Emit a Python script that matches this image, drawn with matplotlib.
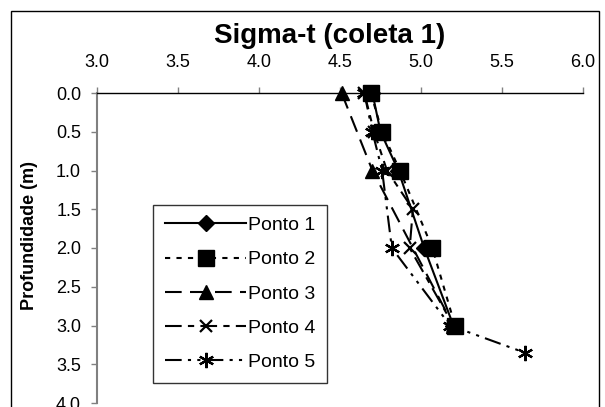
import matplotlib
matplotlib.use("Agg")
import matplotlib.pyplot as plt
from matplotlib.patches import Rectangle

plt.rcParams['font.family'] = ['Liberation Sans', 'DejaVu Sans']

# Sigma-t values per point (x) vs depth (y)
prof_1 = [0.0, 0.5, 1.0, 2.0, 3.0]
sig_1 = [4.70, 4.75, 4.86, 5.02, 5.20]

prof_2 = [0.0, 0.5, 1.0, 2.0, 3.0]
sig_2 = [4.69, 4.76, 4.87, 5.07, 5.21]

prof_3 = [0.0, 1.0, 3.0]
sig_3 = [4.51, 4.70, 5.20]

prof_4 = [0.0, 0.5, 1.0, 1.5, 2.0, 3.0]
sig_4 = [4.65, 4.71, 4.79, 4.95, 4.93, 5.20]

prof_5 = [0.0, 0.5, 1.0, 2.0, 3.0, 3.35]
sig_5 = [4.65, 4.70, 4.76, 4.82, 5.18, 5.64]

xticks = [3.0, 3.5, 4.0, 4.5, 5.0, 5.5, 6.0]
yticks = [0.0, 0.5, 1.0, 1.5, 2.0, 2.5, 3.0, 3.5, 4.0]

fig = plt.figure(figsize=(6.05, 4.07), dpi=100)
ax = fig.add_axes([97/605, 1-403/407, (583-97)/605, (403-93)/407])

lw = 1.5
ax.plot(sig_1, prof_1, color='black', lw=lw, ls='-', marker='D', ms=8, label='Ponto 1', clip_on=False)
ax.plot(sig_2, prof_2, color='black', lw=lw, ls=(0, (2.5, 3)), marker='s', ms=11, label='Ponto 2', clip_on=False)
ax.plot(sig_3, prof_3, color='black', lw=lw, ls=(0, (8, 4)), marker='^', ms=10, label='Ponto 3', clip_on=False)
ax.plot(sig_4, prof_4, color='black', lw=lw, ls=(0, (8, 3, 3, 3)), marker='x', ms=9, mew=1.6, label='Ponto 4', clip_on=False)
ax.plot(sig_5, prof_5, color='black', lw=lw, ls=(0, (8, 3, 1.5, 3, 1.5, 3)), marker=(6, 2, 0), ms=11, mew=1.6, label='Ponto 5', clip_on=False)

ax.set_xlim(3.0, 6.0)
ax.set_ylim(4.0, 0.0)
ax.set_xticks(xticks)
ax.set_yticks(yticks)
ax.set_xticklabels([f'{v:.1f}' for v in xticks])
ax.set_yticklabels([f'{v:.1f}' for v in yticks])
ax.xaxis.tick_top()
ax.tick_params(axis='x', direction='out', length=4.5, width=1, color='#808080', labelsize=13, pad=11)
ax.tick_params(axis='y', direction='out', length=4.5, width=1, color='#808080', labelsize=13, pad=7)

ax.spines['right'].set_visible(False)
ax.spines['bottom'].set_visible(False)
ax.spines['top'].set_color('black')
ax.spines['top'].set_linewidth(1.0)
ax.spines['left'].set_color('#808080')
ax.spines['left'].set_linewidth(1.5)

fig.text(30/605, 1-236/407, 'Profundidade (m)', rotation=90, ha='center', va='center',
         fontsize=13, fontweight='bold')
fig.text(330/605, 1-36/407, 'Sigma-t (coleta 1)', ha='center', va='center',
         fontsize=20, fontweight='bold')

leg = ax.legend(loc='upper left', bbox_to_anchor=(153/605, 1-205/407),
                bbox_transform=fig.transFigure, frameon=True,
                fancybox=False, edgecolor='black', fontsize=14, handlelength=4.2,
                labelspacing=0.85, borderpad=0.6, handletextpad=0.1,
                borderaxespad=0)
leg.get_frame().set_linewidth(1.0)

# outer chart border
fig.patches.append(Rectangle((11/605, -0.05), 588/605, 1.05 - 11/407,
                             transform=fig.transFigure, fill=False,
                             edgecolor='black', lw=1.0))

fig.savefig('out.png', dpi=100)
